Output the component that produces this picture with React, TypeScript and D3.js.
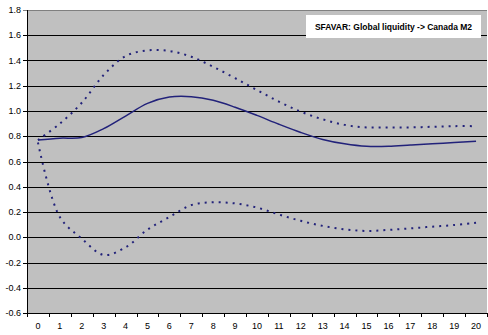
import React from "react";
import * as d3 from "d3";

const periods = d3.range(0, 21).map(String);
const meanResp = [0.77, 0.785, 0.79, 0.86, 0.96, 1.06, 1.11, 1.113, 1.085, 1.03, 0.965, 0.895, 0.83, 0.775, 0.74, 0.72, 0.72, 0.73, 0.74, 0.75, 0.76];
const upperBand = [0.77, 0.9, 1.065, 1.285, 1.435, 1.48, 1.475, 1.43, 1.35, 1.26, 1.166, 1.074, 0.995, 0.934, 0.89, 0.87, 0.87, 0.87, 0.875, 0.88, 0.88];
const lowerBand = [0.75, 0.16, -0.01, -0.14, -0.08, 0.06, 0.16, 0.255, 0.277, 0.268, 0.235, 0.18, 0.13, 0.09, 0.063, 0.05, 0.058, 0.07, 0.084, 0.097, 0.115];
const yTicks = [-0.6, -0.4, -0.2, 0.0, 0.2, 0.4, 0.6, 0.8, 1.0, 1.2, 1.4, 1.6, 1.8];
const legendLabel = "SFAVAR: Global liquidity -> Canada M2";

export default function App() {
  const W = 488, H = 335;
  const left = 27, right = 487, top = 10, bottom = 313;
  const x = d3.scaleBand().domain(periods).range([left, right]).padding(0);
  const y = d3.scaleLinear().domain([-0.6, 1.8]).range([bottom, top]);
  const cx = (i: number) => (x(periods[i]) as number) + x.bandwidth() / 2;
  const line = d3
    .line<number>()
    .x((_, i) => cx(i))
    .y((d) => y(d))
    .curve(d3.curveCatmullRom.alpha(0.5));
  const color = "#22227a";
  const font = "Arial, 'Liberation Sans', sans-serif";
  return (
    <svg
      width={W}
      height={H}
      style={{ position: "absolute", left: 0, top: 0, background: "#fff" }}
    >
      <rect x={left} y={top} width={right - left} height={bottom - top} fill="#c0c0c0" />
      {yTicks.map((t, i) => (
        <g key={i}>
          <line
            x1={left - 4}
            x2={right}
            y1={Math.round(y(t)) + 0.5}
            y2={Math.round(y(t)) + 0.5}
            stroke={i === yTicks.length - 1 ? "#808080" : "#000"}
            strokeWidth={1}
          />
          <text
            x={left - 6}
            y={y(t)}
            dy="0.35em"
            textAnchor="end"
            fontFamily={font}
            fontSize={9}
            fill="#000"
          >
            {t.toFixed(1)}
          </text>
        </g>
      ))}
      <line x1={left + 0.5} x2={left + 0.5} y1={top} y2={bottom + 0.5} stroke="#000" />
      {d3.range(0, periods.length + 1).map((i) => {
        const xv = Math.round(left + i * x.bandwidth()) + 0.5;
        return <line key={i} x1={xv} x2={xv} y1={bottom} y2={bottom + 4} stroke="#000" />;
      })}
      {periods.map((p, i) => (
        <text
          key={p}
          x={cx(i)}
          y={329}
          textAnchor="middle"
          fontFamily={font}
          fontSize={9}
          fill="#000"
        >
          {p}
        </text>
      ))}
      <path d={line(upperBand) || ""} fill="none" stroke={color} strokeWidth={2} strokeDasharray="2,5" />
      <path d={line(lowerBand) || ""} fill="none" stroke={color} strokeWidth={2} strokeDasharray="2,5" />
      <path d={line(meanResp) || ""} fill="none" stroke={color} strokeWidth={1.5} />
      <rect x={306} y={15} width={175} height={23} fill="#fff" />
      <text
        x={393.5}
        y={29.5}
        textAnchor="middle"
        fontFamily={font}
        fontSize={8.5}
        fontWeight="bold"
        fill="#000"
      >
        {legendLabel}
      </text>
    </svg>
  );
}
